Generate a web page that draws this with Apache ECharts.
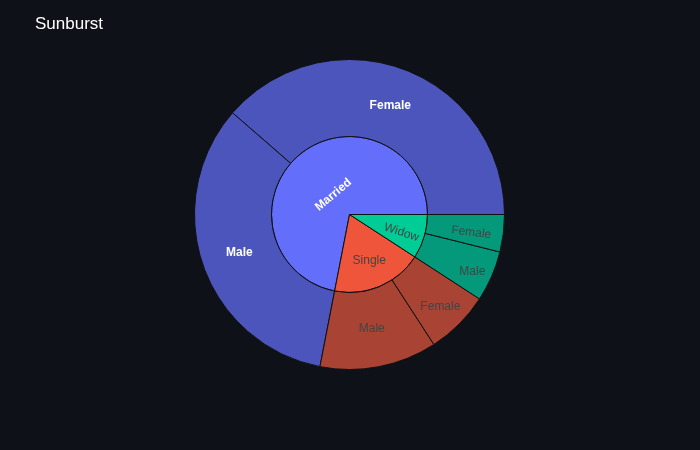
<!DOCTYPE html>
<html>
<head>
<meta charset="utf-8">
<script src="https://cdn.jsdelivr.net/npm/echarts@6/dist/echarts.min.js"></script>
<style>
  html, body { margin: 0; padding: 0; background: #0e1117; }
  #chart { width: 700px; height: 450px; }
</style>
</head>
<body>
<div id="chart"></div>
<script>
// marital status -> gender
const statuses = ['Married', 'Single', 'Widow'];
const statusColors = ['#636efa', '#ef553b', '#00cc96'];
const outerColors = ['#4b55bb', '#a94333', '#03997a'];
const genders = [
    ['Female', 'Male'],
    ['Male', 'Female'],
    ['Male', 'Female']
];
const genderValues = [
    [139, 120],
    [44, 24],
    [19, 14]
];

// plotly-ish label placement tweaks: rotate, padding (horizontal shift), drop (vertical shift via lineHeight)
const innerLabels = [
    { rotate: 40, color: '#fff', drop: 27, bold: true },
    { rotate: 0, color: '#444', drop: 21, padding: [0, 0, 0, 9] },
    { rotate: -18, color: '#444', drop: 4, padding: [0, 0, 0, 32] }
];
const outerLabels = [
    [{ rotate: 0, color: '#fff', bold: true }, { rotate: 0, color: '#fff', bold: true }],
    [{ rotate: 0, color: '#444' }, { rotate: 0, color: '#444', drop: 20, padding: [0, 0, 0, 17] }],
    [{ rotate: 0, color: '#444', drop: 22, padding: [0, 0, 0, 32] }, { rotate: -7, color: '#444', drop: 6, padding: [0, 0, 0, 13] }]
];

function makeLabel(o) {
    const lbl = {
        rotate: o.rotate,
        color: o.color,
        fontWeight: o.bold ? 'bold' : 'normal',
        padding: o.padding || 0
    };
    if (o.drop) {
        lbl.lineHeight = o.drop;
        lbl.formatter = function (p) { return '\n' + p.name; };
    }
    return lbl;
}

const data = statuses.map(function (s, i) {
    return {
        name: s,
        itemStyle: { color: statusColors[i] },
        label: makeLabel(innerLabels[i]),
        children: genders[i].map(function (g, j) {
            return {
                name: g,
                value: genderValues[i][j],
                itemStyle: { color: outerColors[i] },
                label: makeLabel(outerLabels[i][j])
            };
        })
    };
});

const chart = echarts.init(document.getElementById('chart'));
chart.setOption({
    backgroundColor: '#0e1117',
    title: {
        text: 'Sunburst',
        left: 30,
        top: 11,
        textStyle: { color: '#fff', fontSize: 17, fontWeight: 'normal', fontFamily: 'Liberation Sans' }
    },
    series: [{
        type: 'sunburst',
        center: [349.5, 214.5],
        radius: [0, 155],
        startAngle: 0,
        clockwise: false,
        sort: null,
        nodeClick: false,
        data: data,
        itemStyle: { borderColor: '#111', borderWidth: 1 },
        label: { fontSize: 12, fontFamily: 'Liberation Sans' },
        levels: [
            {},
            { r0: 0, r: 78 },
            { r0: 78, r: 155 }
        ]
    }]
});
</script>
</body>
</html>
